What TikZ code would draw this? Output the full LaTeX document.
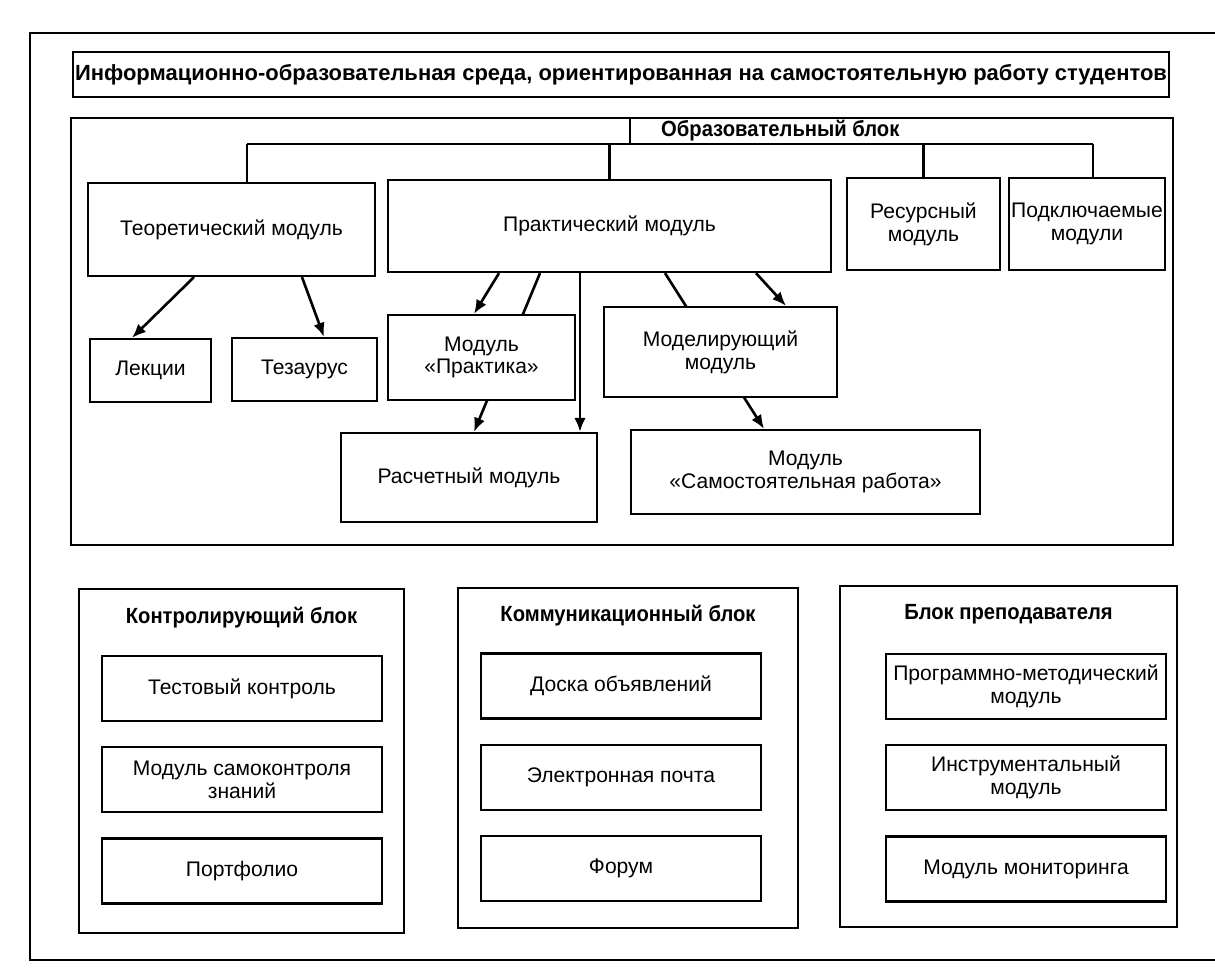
\documentclass[tikz,border=0pt]{standalone}
\usepackage{fontspec}
\setmainfont{Liberation Sans}
\newfontfamily\narrowbold[FakeStretch=0.92]{Liberation Sans}
\usetikzlibrary{arrows.meta, positioning, backgrounds}

\tikzset{
    modbox/.style={
        rectangle,
        draw,
        line width=1.3pt,
        fill=white,
        align=center,
        inner sep=1pt,
        font=\fontsize{12}{13}\selectfont
    },
    innerbox/.style={
        modbox,
        minimum width=5.6cm,
        minimum height=1.3cm
    },
    blockframe/.style={rectangle, draw, line width=1.3pt},
    blocktitle/.style={font=\narrowbold\bfseries\fontsize{12.5}{14}\selectfont},
    flowarrow/.style={-{Latex[length=2.8mm, width=2.3mm]}, line width=1.5pt},
    busline/.style={line width=1.3pt}
}

\begin{document}
\begin{tikzpicture}[x=0.02cm, y=-0.02cm, node distance=0.48cm]
    \useasboundingbox (0,0) rectangle (1215,969);
    % outer frame, cut off at the right page edge
    \draw[line width=1.5pt] (1230,33) -| (30,960) -- (1230,960);

    \node[modbox, minimum width=21.92cm, minimum height=0.9cm, font=\bfseries\fontsize{12.5}{14}\selectfont] (title) at (621,74.5)
        {Информационно-образовательная среда, ориентированная на самостоятельную работу студентов};

    % educational block
    \node[blockframe, minimum width=22.04cm, minimum height=8.54cm] (edu) at (622,331.5) {};
    \node[blocktitle, anchor=west] (edulabel) at (655,131) {Образовательный блок};

    \node[modbox, minimum width=5.74cm, minimum height=1.86cm] (teor) at (231.5,229.5) {Теоретический модуль};
    \node[modbox, minimum width=8.86cm, minimum height=1.84cm] (prak) at (609.5,226) {Практический модуль};
    \node[modbox, minimum width=3.06cm, minimum height=1.84cm] (res) at (923.5,224) {Ресурсный\\модуль};
    \node[modbox, minimum width=3.12cm, minimum height=1.84cm] (plug) at (1087,224) {Подключаемые\\модули};

    \node[modbox, minimum width=2.42cm, minimum height=1.26cm] (lek) at (150.5,370.5) {Лекции};
    \node[modbox, minimum width=2.9cm, minimum height=1.26cm] (tez) at (304.5,369.5) {Тезаурус};
    \node[modbox, minimum width=3.74cm, minimum height=1.7cm] (praktika) at (481.5,357.5) {Модуль\\«Практика»};
    \node[modbox, minimum width=4.66cm, minimum height=1.8cm] (model) at (720.5,352) {Моделирующий\\модуль};
    \node[modbox, minimum width=5.12cm, minimum height=1.78cm] (rasch) at (469,477.5) {Расчетный модуль};
    \node[modbox, minimum width=6.98cm, minimum height=1.68cm] (samost) at (805.5,472) {Модуль\\«Самостоятельная работа»};

    % tree under the block label
    \coordinate (tab) at (630,144);
    \coordinate (busL) at (247,144);
    \coordinate (busR) at (1093,144);
    \draw[busline] (tab |- edu.north) -- (tab);
    \draw[busline] (busL) -- (busR);
    \draw[busline] (busL) -- (busL |- teor.north);
    \draw[busline] (prak.north |- busL) -- (prak.north);
    \draw[busline] (res.north |- busL) -- (res.north);
    \draw[busline] (busR) -- (busR |- plug.north);

    \begin{scope}[on background layer]
        \draw[flowarrow] ([xshift=-0.75cm]teor.south) -- ([xshift=-0.37cm]lek.north);
        \draw[flowarrow] ([xshift=1.41cm]teor.south) -- ([xshift=0.39cm]tez.north);
        \draw[flowarrow] ([xshift=-2.21cm]prak.south) -- ([xshift=-0.15cm]praktika.north);
        \draw[flowarrow] ([xshift=-1.39cm]prak.south) -- ([xshift=0.1cm]rasch.north);
        \draw[flowarrow] ([xshift=-0.59cm]prak.south) -- ([xshift=-0.59cm]prak.south |- rasch.north);
        \draw[flowarrow] ([xshift=2.93cm]prak.south) -- ([xshift=1.31cm]model.north);
        \draw[flowarrow] ([xshift=1.11cm]prak.south) -- ([xshift=-0.83cm]samost.north);
    \end{scope}

    % lower blocks
    \node[blockframe, minimum width=6.5cm, minimum height=6.88cm] (ctrl) at (241.5,761) {};
    \node[blockframe, minimum width=6.8cm, minimum height=6.8cm] (comm) at (628,758) {};
    \node[blockframe, minimum width=6.74cm, minimum height=6.82cm] (teach) at (1008.5,756.5) {};
    \node[blocktitle] (ctrltitle) at ([yshift=-0.6cm]ctrl.north) {Контролирующий блок};
    \node[blocktitle] (commtitle) at ([yshift=-0.58cm]comm.north) {Коммуникационный блок};
    \node[blocktitle] (teachtitle) at ([yshift=-0.58cm]teach.north) {Блок преподавателя};

    \node[innerbox] (test) at (242,688.5) {Тестовый контроль};
    \node[innerbox, below=of test] (selfctrl) {Модуль самоконтроля\\знаний};
    \node[innerbox, below=of selfctrl] (portf) {Портфолио};

    \node[innerbox] (board) at (621,686) {Доска объявлений};
    \node[innerbox, below=of board] (mail) {Электронная почта};
    \node[innerbox, below=of mail] (forum) {Форум};

    \node[innerbox] (progmet) at (1026,686.5) {Программно-методический\\модуль};
    \node[innerbox, below=of progmet] (instr) {Инструментальный\\модуль};
    \node[innerbox, below=of instr] (monit) {Модуль мониторинга};
\end{tikzpicture}
\end{document}
